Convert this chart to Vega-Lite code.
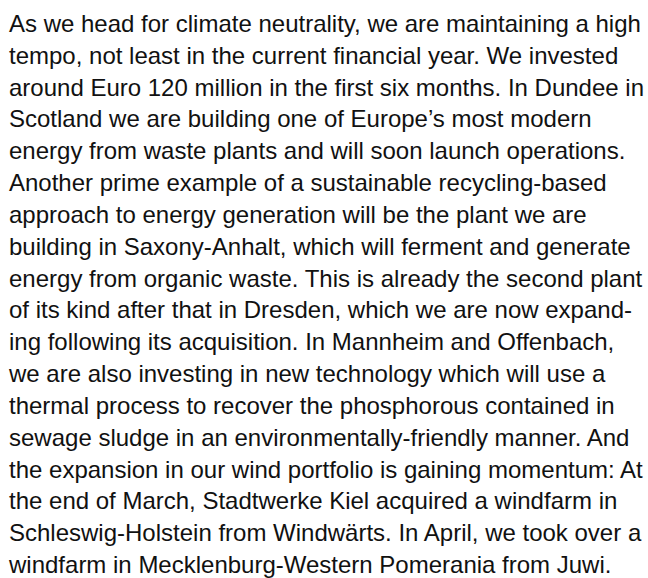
{
  "$schema": "https://vega.github.io/schema/vega-lite/v6.json",
  "width": 648,
  "height": 578,
  "autosize": {"type": "fit", "contains": "padding"},
  "padding": 0,
  "background": "white",
  "config": {"view": {"stroke": null}},
  "data": {
    "values": [
      {"line": 1, "text": "As we head for climate neutrality, we are maintaining a high"},
      {"line": 2, "text": "tempo, not least in the current financial year. We invested"},
      {"line": 3, "text": "around Euro 120 million in the first six months. In Dundee in"},
      {"line": 4, "text": "Scotland we are building one of Europe’s most modern"},
      {"line": 5, "text": "energy from waste plants and will soon launch operations."},
      {"line": 6, "text": "Another prime example of a sustainable recycling-based"},
      {"line": 7, "text": "approach to energy generation will be the plant we are"},
      {"line": 8, "text": "building in Saxony-Anhalt, which will ferment and generate"},
      {"line": 9, "text": "energy from organic waste. This is already the second plant"},
      {"line": 10, "text": "of its kind after that in Dresden, which we are now expand-"},
      {"line": 11, "text": "ing following its acquisition. In Mannheim and Offenbach,"},
      {"line": 12, "text": "we are also investing in new technology which will use a"},
      {"line": 13, "text": "thermal process to recover the phosphorous contained in"},
      {"line": 14, "text": "sewage sludge in an environmentally-friendly manner. And"},
      {"line": 15, "text": "the expansion in our wind portfolio is gaining momentum: At"},
      {"line": 16, "text": "the end of March, Stadtwerke Kiel acquired a windfarm in"},
      {"line": 17, "text": "Schleswig-Holstein from Windwärts. In April, we took over a"},
      {"line": 18, "text": "windfarm in Mecklenburg-Western Pomerania from Juwi."}
    ]
  },
  "mark": {
    "type": "text",
    "align": "left",
    "baseline": "alphabetic",
    "font": "Liberation Sans",
    "fontSize": 24,
    "color": "#111111"
  },
  "encoding": {
    "x": {"datum": 9, "type": "quantitative", "scale": {"domain": [0, 648], "nice": false, "zero": false}, "axis": null},
    "y": {"field": "line", "type": "quantitative", "scale": {"domain": [0, 18.0625], "nice": false, "zero": false, "reverse": true}, "axis": null},
    "text": {"field": "text"}
  }
}
